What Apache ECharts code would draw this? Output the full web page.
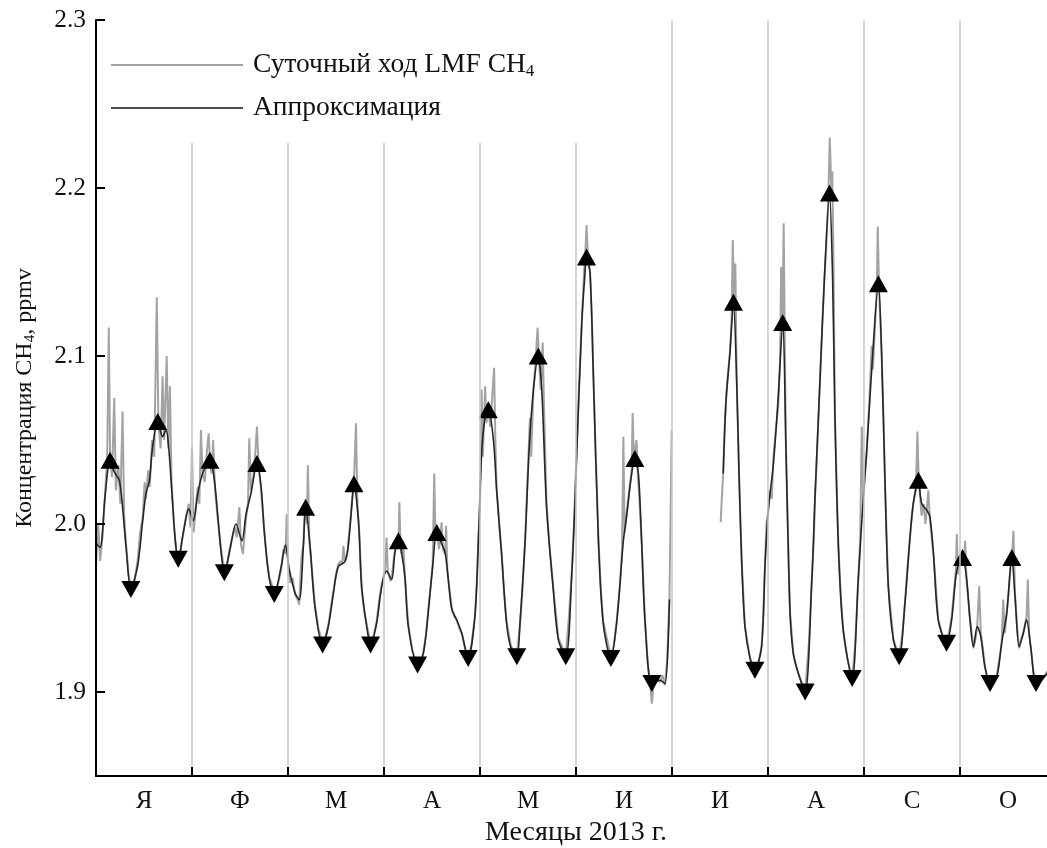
<!DOCTYPE html>
<html>
<head>
<meta charset="utf-8">
<script src="https://cdn.jsdelivr.net/npm/echarts@6/dist/echarts.min.js"></script>
<style>
  html, body { margin: 0; padding: 0; background: #fff; }
  #chart { width: 1047px; height: 848px; }
</style>
</head>
<body>
<div id="chart"></div>
<script>
// ---- data (x in days, 30 days per month band) ----
const months = ['Я', 'Ф', 'М', 'А', 'М', 'И', 'И', 'А', 'С', 'О'];
const yTicks = [1.9, 2.0, 2.1, 2.2, 2.3];
const monthBoundaries = [30, 60, 90, 120, 150, 180, 210, 240, 270];
const boundaryTops = [2.227, 2.227, 2.227, 2.227, 2.227, 2.3, 2.3, 2.3, 2.3];

const rawDays = [0,0.7,1.3,2.0,2.9,3.5,4.0,4.4,5.0,5.7,6.2,7.0,7.6,8.3,8.8,9.4,10.2,10.9,12.0,13.0,13.8,14.6,15.2,15.6,16.3,16.8,17.5,18.2,19.0,19.5,20.2,20.8,21.3,22.1,22.6,23.1,23.6,24.4,25.0,25.7,26.5,27.3,28.2,29.0,29.5,30.0,30.5,31.2,31.8,32.3,32.8,33.3,34.0,34.6,35.2,35.7,36.2,36.6,37.2,38.0,39.1,40.1,41.0,41.7,42.6,43.4,44.0,44.8,45.3,45.9,46.9,47.5,47.9,48.4,49.2,49.7,50.3,50.8,51.6,52.6,53.4,54.2,55.7,56.8,57.8,58.6,59.2,59.6,60.0,60.6,61.4,62.2,63.0,63.5,64.2,64.8,65.3,65.9,66.2,66.7,67.4,68.4,69.5,70.8,71.8,72.6,73.4,74.2,75.0,75.7,76.4,77.0,77.3,77.8,78.5,78.8,79.5,79.9,80.6,81.25,81.7,82.3,83.0,83.8,84.6,85.8,86.8,87.7,88.5,89.3,90.0,90.4,90.8,91.2,92.0,92.4,93.0,93.4,94.0,94.5,94.8,95.2,95.5,96.0,96.6,97.6,98.8,100.5,101.5,102.3,103.2,103.8,104.5,105.2,105.7,106.1,106.5,107.2,107.6,108.0,108.4,109.1,109.4,109.8,110.1,111.2,112.0,112.7,113.5,114.3,115.3,116.3,117.3,118.4,119.0,119.5,120.0,120.5,120.9,121.6,122.0,122.6,123.2,123.8,124.4,124.8,125.2,126.0,126.8,127.5,128.3,129.7,131.5,132.5,133.3,134.1,134.8,135.6,136.0,136.7,137.3,138.0,138.5,139.0,139.6,140.0,140.8,141.8,142.9,144.5,146.8,147.8,148.7,149.5,150.2,150.9,151.8,152.5,153.0,153.3,153.7,154.4,155.0,155.4,156.2,157.0,157.8,158.5,160.9,161.8,162.7,163.8,164.4,164.8,165.2,165.8,166.6,167.4,167.7,168.1,168.4,168.9,169.3,169.8,170.5,171.6,172.5,173.2,173.7,174.2,175.2,176.25,177.0,177.8,178.5,179.2,179.9,187,195.2,195.7,196.0,196.5,196.9,197.5,198.1,198.6,199.0,199.4,199.8,200.2,201.0,201.8,202.8,204.4,205.9,207.0,208.0,208.5,209.1,209.5,210.1,210.6,211.2,211.7,212.4,213.2,213.8,214.1,214.5,214.9,215.3,215.6,216.2,216.9,217.9,218.8,219.5,221.6,222.8,223.7,224.3,224.7,225.5,226.25,227.0,227.6,228.2,228.8,229.3,229.8,230.1,230.5,230.9,231.5,232.0,232.8,233.5,234.8,236.3,237.3,238.2,238.8,239.3,239.8,240.3,240.8,241.6,242.4,242.8,243.5,244.0,244.3,244.7,245.5,246.0,246.6,247.6,249.2,251.0,252.0,252.8,253.6,254.4,255.0,255.4,256.2,256.7,257.1,257.6,258.0,258.6,259.2,259.6,260.1,260.6,261.7,262.5,263.2,264.5,265.8,266.6,267.4,268.2,268.7,269.0,269.4,270.0,270.8,271.2,271.6,272.1,273.1,274.2,274.9,275.4,276.0,276.5,277.2,277.8,278.6,279.4,280.5,281.5,282.3,283.0,283.5,284.0,284.6,285.3,285.8,286.2,286.7,287.2,288.0,288.5,289.2,289.8,290.3,290.8,291.2,291.6,292.1,293.0,293.75,294.6,295.5,296.5,297.2,299.0];
const rawValues = [1.975,2.000,1.978,1.992,2.020,2.040,2.117,2.040,2.028,2.075,2.020,2.035,2.012,2.067,2.005,1.988,1.970,1.962,1.966,1.978,1.995,2.004,2.025,2.015,2.032,2.022,2.050,2.040,2.135,2.060,2.045,2.088,2.050,2.100,2.045,2.082,2.025,1.998,1.985,1.980,1.985,1.995,2.005,2.012,1.998,2.046,1.995,2.010,2.022,2.012,2.056,2.030,2.025,2.042,2.054,2.035,2.030,2.050,2.020,2.004,1.985,1.972,1.976,1.985,1.992,1.998,1.992,2.010,1.988,1.982,2.004,2.012,2.051,2.020,2.028,2.040,2.058,2.035,2.020,1.996,1.978,1.968,1.960,1.964,1.972,1.985,1.982,2.006,1.975,1.965,1.968,1.958,1.955,1.952,1.980,1.988,2.012,2.000,2.035,1.990,1.975,1.952,1.938,1.929,1.933,1.940,1.950,1.960,1.970,1.976,1.978,1.976,1.987,1.978,1.982,1.988,2.002,2.012,2.025,2.060,2.010,1.995,1.962,1.948,1.940,1.929,1.934,1.942,1.955,1.964,1.970,1.974,1.992,1.972,1.966,1.968,1.978,1.984,1.992,1.988,2.013,1.986,1.982,1.990,1.966,1.940,1.925,1.916,1.918,1.924,1.935,1.948,1.962,1.976,2.030,1.990,1.996,1.985,1.992,2.001,1.985,1.982,1.999,1.972,1.966,1.950,1.945,1.943,1.938,1.935,1.926,1.921,1.928,1.945,1.965,1.992,2.010,2.080,2.040,2.082,2.060,2.070,2.058,2.075,2.093,2.050,2.022,2.000,1.982,1.960,1.942,1.927,1.922,1.940,1.962,1.990,2.025,2.063,2.040,2.080,2.095,2.117,2.095,2.080,2.108,2.070,2.012,1.985,1.962,1.932,1.922,1.945,1.972,2.005,2.045,2.080,2.120,2.150,2.165,2.178,2.160,2.150,2.120,2.090,2.040,1.992,1.960,1.942,1.921,1.928,1.942,1.965,1.985,2.052,1.995,2.006,2.020,2.032,2.066,2.040,2.042,2.050,2.030,2.015,1.990,1.942,1.915,1.905,1.893,1.905,1.908,1.906,1.910,1.904,1.920,1.955,2.056,null,2.001,2.020,2.030,2.060,2.074,2.090,2.102,2.120,2.169,2.130,2.155,2.088,2.026,1.977,1.939,1.920,1.913,1.918,1.927,1.945,1.978,2.000,2.008,2.020,2.015,2.040,2.055,2.070,2.100,2.153,2.120,2.179,2.100,2.046,1.996,1.947,1.923,1.915,1.911,1.900,1.930,1.967,1.990,2.016,2.050,2.086,2.120,2.145,2.165,2.190,2.230,2.200,2.210,2.150,2.066,2.020,1.987,1.955,1.937,1.920,1.908,1.930,1.967,1.990,2.058,2.016,2.030,2.042,2.070,2.106,2.092,2.120,2.140,2.177,2.140,2.102,2.070,2.022,1.963,1.931,1.921,1.935,1.953,1.975,1.993,2.005,2.012,2.020,2.055,2.025,2.015,2.005,2.012,2.000,2.008,2.020,2.002,1.982,1.962,1.943,1.934,1.929,1.936,1.945,1.962,1.972,1.994,1.970,1.978,1.982,1.975,1.990,1.965,1.945,1.926,1.932,1.940,1.963,1.935,1.925,1.915,1.908,1.905,1.906,1.910,1.920,1.928,1.955,1.935,1.947,1.962,1.975,1.978,1.996,1.958,1.935,1.926,1.932,1.936,1.940,1.945,1.967,1.935,1.926,1.912,1.906,1.905,1.908,1.910,1.912,1.915];

const fitDays = [0,1.25,2.9,4.4,5.7,7.3,8.3,9.4,10.9,13.0,14.6,15.6,16.7,17.7,19.3,20.8,21.9,22.7,23.75,24.8,25.7,27.3,29.0,30.4,31.8,33.3,35.6,37.0,38.0,39.1,40.1,41.7,43.75,45.6,46.9,48.4,50.3,51.6,52.6,54.2,55.7,57.8,59.2,60.4,62.2,63.5,64.8,65.5,66.9,68.4,70.8,72.6,74.2,75.7,77.8,78.8,79.9,80.6,82.0,83.0,84.6,85.8,87.7,89.3,90.8,92.4,93.4,94.5,95.5,96.6,97.6,100.5,102.3,103.8,105.2,106.5,108.0,109.1,110.1,111.2,112.7,114.3,116.3,118.4,119.5,120.5,121.6,122.6,124.2,125.2,126.8,128.3,129.7,131.5,132.5,134.1,135.4,136.7,138.2,139.3,140.8,142.9,144.5,146.8,148.7,150.2,151.8,152.8,153.3,154.4,155.4,157.0,158.5,160.9,162.7,164.8,165.8,167.4,168.4,169.5,170.5,171.6,173.7,176.25,177.8,179.2,187,196.0,196.9,198.1,199.2,200.2,201.0,201.8,202.8,204.4,205.9,208.0,209.1,210.1,211.7,213.2,214.6,215.6,216.2,216.9,217.9,219.5,221.6,223.7,224.7,226.25,227.6,229.2,230.2,230.9,232.0,233.5,236.3,238.2,239.8,240.8,242.4,244.5,245.5,246.6,247.6,249.2,251.0,252.8,254.4,255.4,257.0,258.0,259.6,260.6,261.7,263.2,265.8,267.4,269.0,270.8,272.1,273.1,274.2,275.4,276.5,277.8,279.4,281.5,283.0,284.6,286.2,287.2,288.5,289.8,290.8,292.1,293.75,295.5,297.2,298.75];
const fitValues = [1.9885,1.986,2.018,2.038,2.031,2.026,2.010,1.986,1.961,1.975,2.002,2.018,2.026,2.046,2.061,2.052,2.056,2.046,2.018,1.990,1.979,1.995,2.009,2.002,2.018,2.030,2.038,2.026,2.006,1.983,1.971,1.983,2.000,1.990,2.006,2.018,2.036,2.022,1.995,1.967,1.958,1.974,1.9875,1.973,1.959,1.955,1.9865,2.010,1.9865,1.951,1.928,1.939,1.959,1.9746,1.9776,1.9865,2.010,2.024,2.0024,1.963,1.939,1.928,1.941,1.963,1.972,1.967,1.983,1.990,1.983,1.967,1.939,1.916,1.923,1.947,1.9746,1.995,1.9885,1.983,1.967,1.949,1.943,1.935,1.920,1.9448,1.990,2.0417,2.0639,2.068,2.050,2.020,1.9806,1.9409,1.926,1.921,1.9409,1.990,2.046,2.080,2.100,2.080,2.010,1.961,1.931,1.921,1.9706,2.040,2.1195,2.149,2.159,2.149,2.0897,1.990,1.941,1.920,1.941,1.990,2.0044,2.030,2.039,2.030,1.990,1.941,1.905,1.907,1.905,1.955,null,2.030,2.0738,2.1016,2.132,2.0857,2.026,1.9766,1.939,1.920,1.913,1.927,1.9766,2.0083,2.036,2.0758,2.120,2.046,1.9964,1.9468,1.923,1.911,1.900,1.9667,2.0163,2.0857,2.1452,2.197,2.145,2.0659,1.9865,1.937,1.908,1.9667,2.0163,2.042,2.0917,2.143,2.1016,2.022,1.9627,1.931,1.921,1.953,1.9925,2.0123,2.026,2.0123,2.0083,2.0044,1.9825,1.943,1.929,1.943,1.9726,1.980,1.9667,1.943,1.927,1.939,1.933,1.915,1.905,1.9091,1.929,1.9468,1.980,1.9567,1.927,1.935,1.943,1.927,1.905,1.907,1.911,1.915];

const maxDays = [4.4,19.3,35.6,50.3,65.5,80.6,94.5,106.5,122.6,138.2,153.3,168.4,199.2,214.6,229.2,244.5,257.0,270.8,286.2];
const maxValues = [2.038,2.061,2.038,2.036,2.010,2.024,1.990,1.995,2.068,2.100,2.159,2.039,2.132,2.120,2.197,2.143,2.026,1.980,1.980];
const minDays = [10.9,25.7,40.1,55.7,70.8,85.8,100.5,116.3,131.5,146.8,160.9,173.7,205.9,221.6,236.3,251.0,265.8,279.4,293.75];
const minValues = [1.961,1.979,1.971,1.958,1.928,1.928,1.916,1.920,1.921,1.921,1.920,1.905,1.913,1.900,1.908,1.921,1.929,1.905,1.905];

// ---- build ----
const pairs = (xs, ys) => xs.map((x, i) => [x, ys[i] === null ? NaN : ys[i]]);
const FONT = 'Liberation Serif';
const RAW = 'Суточный ход LMF CH4';
const FIT = 'Аппроксимация';

const chart = echarts.init(document.getElementById('chart'), null, { renderer: 'canvas' });
chart.setOption({
  animation: false,
  backgroundColor: '#ffffff',
  grid: { left: 96, right: -9, top: 20, bottom: 72, containLabel: false, outerBoundsMode: 'none' },
  legend: {
    data: [RAW, FIT],
    orient: 'vertical',
    left: 106,
    top: 46,
    icon: 'rect',
    itemWidth: 132,
    itemHeight: 2,
    itemGap: 14,
    selectedMode: false,
    formatter: n => n === RAW ? '{a|Суточный ход LMF CH}{s|4}' : '{a|Аппроксимация}',
    textStyle: {
      rich: {
        a: { fontFamily: FONT, fontSize: 27.5, color: '#111', padding: [0, 0, 0, 5] },
        s: { fontFamily: FONT, fontSize: 17, color: '#111', padding: [13, 0, 0, 0] }
      }
    }
  },
  xAxis: [
    {
      type: 'category',
      data: months,
      boundaryGap: true,
      z: 10,
      axisLine: { show: true, lineStyle: { color: '#000', width: 2 } },
      axisTick: { show: true, inside: true, length: 9, interval: 0, lineStyle: { color: '#000', width: 2 } },
      axisLabel: { interval: 0, margin: 13, fontFamily: FONT, fontSize: 25, color: '#111' },
      splitLine: { show: false },
      name: 'Месяцы 2013 г.',
      nameLocation: 'middle',
      nameGap: 42,
      nameTextStyle: { fontFamily: FONT, fontSize: 28, color: '#111' }
    },
    { type: 'value', min: 0, max: 300, show: false }
  ],
  yAxis: {
    type: 'value',
    min: 1.85,
    max: 2.3,
    z: 10,
    axisLine: { show: true, lineStyle: { color: '#000', width: 2 } },
    axisTick: { show: true, inside: true, length: 9, customValues: yTicks, lineStyle: { color: '#000', width: 2 } },
    axisLabel: { customValues: yTicks, margin: 10, fontFamily: FONT, fontSize: 25.5, color: '#111', formatter: v => v.toFixed(1) },
    splitLine: { show: false },
    name: 'Концентрация CH{s|4}, ppmv',
    nameLocation: 'middle',
    nameGap: 58,
    nameRotate: 90,
    nameTextStyle: {
      fontFamily: FONT, fontSize: 24, color: '#111',
      rich: {
        s: { fontFamily: FONT, fontSize: 15, color: '#111', padding: [12, 0, 0, 0] }
      }
    }
  },
  series: [
    {
      name: 'boundaries',
      type: 'line',
      xAxisIndex: 1,
      data: [],
      z: 1,
      silent: true,
      markLine: {
        silent: true,
        symbol: ['none', 'none'],
        label: { show: false },
        lineStyle: { color: '#c8c8c8', width: 1.5, type: 'solid' },
        data: monthBoundaries.map((x, i) => [{ coord: [x, 1.85] }, { coord: [x, boundaryTops[i]] }])
      }
    },
    {
      name: RAW,
      type: 'line',
      xAxisIndex: 1,
      data: pairs(rawDays, rawValues),
      symbol: 'none',
      connectNulls: false,
      lineStyle: { color: '#a3a3a3', width: 2 },
      itemStyle: { color: '#a3a3a3' },
      z: 2
    },
    {
      name: FIT,
      type: 'line',
      xAxisIndex: 1,
      data: pairs(fitDays, fitValues),
      symbol: 'none',
      smooth: 0.3,
      connectNulls: false,
      lineStyle: { color: '#262626', width: 1.6 },
      itemStyle: { color: '#4a4a4a' },
      z: 3
    },
    {
      name: 'max',
      type: 'scatter',
      xAxisIndex: 1,
      data: pairs(maxDays, maxValues),
      symbol: 'triangle',
      symbolSize: [19, 17],
      itemStyle: { color: '#000', opacity: 1 },
      z: 4
    },
    {
      name: 'min',
      type: 'scatter',
      xAxisIndex: 1,
      data: pairs(minDays, minValues),
      symbol: 'triangle',
      symbolRotate: 180,
      symbolSize: [19, 17],
      itemStyle: { color: '#000', opacity: 1 },
      z: 4
    }
  ]
});
</script>
</body>
</html>
